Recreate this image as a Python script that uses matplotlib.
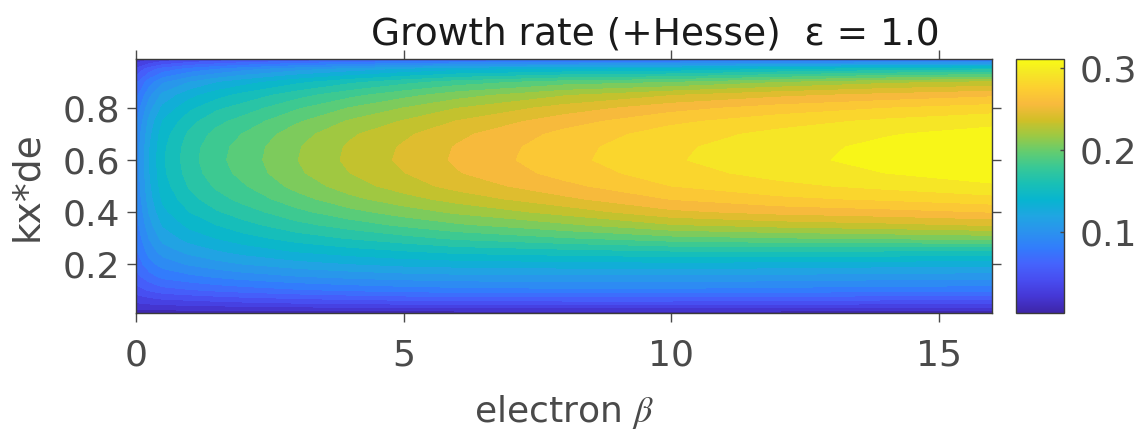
import numpy as np
import matplotlib
matplotlib.use("Agg")
import matplotlib.pyplot as plt
from matplotlib.colors import LinearSegmentedColormap, Normalize
from matplotlib.cm import ScalarMappable

plt.rcParams['font.family'] = ['DejaVu Sans']
plt.rcParams['mathtext.fontset'] = 'stix'

# data: growth rate on a (beta, kx*de) grid
beta = [0, 0.25, 0.5, 1, 1.5, 2, 3, 4, 5, 6, 8, 10, 12, 14, 16]
kx = [0.01, 0.05, 0.1, 0.15, 0.2, 0.25, 0.3, 0.35, 0.4, 0.45, 0.5,
      0.55, 0.6, 0.65, 0.7, 0.75, 0.8, 0.85, 0.9, 0.95, 0.99]
growth = [
    [0.005, 0.025, 0.045, 0.058, 0.067, 0.073, 0.078, 0.082, 0.085, 0.088, 0.090, 0.091, 0.092, 0.091, 0.089, 0.085, 0.079, 0.071, 0.060, 0.040, 0.015],
    [0.005, 0.028, 0.052, 0.070, 0.083, 0.093, 0.101, 0.108, 0.114, 0.119, 0.122, 0.124, 0.125, 0.124, 0.121, 0.116, 0.108, 0.097, 0.082, 0.057, 0.022],
    [0.005, 0.030, 0.058, 0.078, 0.093, 0.106, 0.117, 0.126, 0.134, 0.140, 0.144, 0.147, 0.148, 0.147, 0.144, 0.138, 0.128, 0.116, 0.098, 0.068, 0.028],
    [0.005, 0.032, 0.062, 0.084, 0.102, 0.117, 0.130, 0.141, 0.150, 0.158, 0.164, 0.168, 0.170, 0.169, 0.165, 0.158, 0.147, 0.133, 0.113, 0.080, 0.035],
    [0.005, 0.034, 0.066, 0.089, 0.108, 0.124, 0.138, 0.150, 0.161, 0.170, 0.177, 0.182, 0.184, 0.183, 0.179, 0.171, 0.160, 0.145, 0.124, 0.088, 0.040],
    [0.005, 0.036, 0.069, 0.093, 0.113, 0.130, 0.145, 0.158, 0.169, 0.179, 0.186, 0.191, 0.193, 0.192, 0.188, 0.180, 0.168, 0.154, 0.132, 0.096, 0.044],
    [0.005, 0.039, 0.074, 0.099, 0.120, 0.139, 0.156, 0.171, 0.184, 0.195, 0.204, 0.210, 0.212, 0.211, 0.207, 0.198, 0.186, 0.170, 0.147, 0.108, 0.050],
    [0.005, 0.041, 0.078, 0.103, 0.125, 0.145, 0.164, 0.181, 0.196, 0.209, 0.219, 0.225, 0.228, 0.227, 0.223, 0.214, 0.201, 0.184, 0.160, 0.117, 0.055],
    [0.005, 0.043, 0.081, 0.106, 0.129, 0.150, 0.171, 0.190, 0.206, 0.220, 0.231, 0.237, 0.240, 0.239, 0.235, 0.226, 0.213, 0.196, 0.171, 0.126, 0.058],
    [0.005, 0.044, 0.083, 0.108, 0.131, 0.155, 0.178, 0.198, 0.215, 0.230, 0.242, 0.249, 0.252, 0.251, 0.247, 0.238, 0.225, 0.207, 0.181, 0.133, 0.060],
    [0.005, 0.045, 0.085, 0.109, 0.133, 0.159, 0.187, 0.210, 0.230, 0.247, 0.259, 0.267, 0.271, 0.270, 0.266, 0.257, 0.243, 0.224, 0.194, 0.139, 0.063],
    [0.005, 0.045, 0.085, 0.109, 0.134, 0.163, 0.196, 0.224, 0.247, 0.263, 0.275, 0.282, 0.286, 0.285, 0.281, 0.272, 0.258, 0.237, 0.200, 0.142, 0.065],
    [0.005, 0.044, 0.083, 0.108, 0.133, 0.164, 0.200, 0.230, 0.254, 0.272, 0.284, 0.292, 0.296, 0.295, 0.291, 0.282, 0.268, 0.247, 0.212, 0.150, 0.066],
    [0.005, 0.042, 0.081, 0.106, 0.131, 0.163, 0.203, 0.234, 0.258, 0.277, 0.291, 0.300, 0.304, 0.303, 0.299, 0.290, 0.275, 0.254, 0.222, 0.156, 0.066],
    [0.005, 0.041, 0.080, 0.105, 0.130, 0.162, 0.206, 0.239, 0.263, 0.283, 0.298, 0.307, 0.311, 0.310, 0.305, 0.296, 0.281, 0.260, 0.228, 0.160, 0.067],
]
xticks = [0, 5, 10, 15]
yticks = [0.2, 0.4, 0.6, 0.8]
cbticks = [0.1, 0.2, 0.3]

# parula colormap (every 4th entry of the 64-colour table)
parula_idx = [0, 4, 8, 12, 16, 20, 24, 28, 32, 36, 40, 44, 48, 52, 56, 60, 63]
parula_rgb = [
    (0.2422, 0.1504, 0.6603), (0.2706, 0.2147, 0.8364), (0.2813, 0.3006, 0.9414),
    (0.2699, 0.3892, 0.9906), (0.1963, 0.4847, 0.9892), (0.1687, 0.5703, 0.9359),
    (0.1248, 0.6459, 0.8883), (0.0297, 0.7082, 0.8163), (0.0964, 0.7500, 0.7120),
    (0.2161, 0.7843, 0.5923), (0.3909, 0.8029, 0.4354), (0.6174, 0.7876, 0.2612),
    (0.8203, 0.7498, 0.1535), (0.9728, 0.7298, 0.2394), (0.9892, 0.8136, 0.1885),
    (0.9597, 0.9135, 0.1423), (0.9769, 0.9839, 0.0805),
]
parula = LinearSegmentedColormap.from_list(
    'parula', [(i / 63, c) for i, c in zip(parula_idx, parula_rgb)], N=256)
norm = Normalize(vmin=0.0016, vmax=0.311)

fig = plt.figure(figsize=(11.37, 4.33), dpi=100)
ax = fig.add_axes([136 / 1137, 1 - 313 / 433, 856 / 1137, 254 / 433])

Z = np.array(growth).T
levels = np.linspace(0.0, 0.3125, 26)
ax.contourf(beta, kx, Z, levels=levels, cmap=parula, norm=norm)

ax.set_xlim(0, 16)
ax.set_ylim(0.01, 0.99)
ax.set_xticks(xticks)
ax.set_yticks(yticks)
ax.set_yticklabels(['0.2', '0.4', '0.6', '0.8'])
gray = '#4a4a4a'
ax.tick_params(direction='out', top=True, right=True, length=6.5, width=1,
               color=gray, labelcolor=gray, labelsize=26)
ax.tick_params(axis='x', pad=12)
ax.tick_params(axis='y', pad=5)
for s in ax.spines.values():
    s.set_color('#3a3a3a')
    s.set_linewidth(1)

ax.set_xlabel(r'electron $\beta$', fontsize=26, color=gray, va='top')
ax.xaxis.set_label_coords(0.5, -0.315)
ax.set_ylabel('kx*de', fontsize=27, color=gray)
ax.yaxis.set_label_coords(-0.106, 0.5)

fig.text(655 / 1137, 1 - 45 / 433, 'Growth rate (+Hesse)  ε = 1.0', fontsize=27,
         color='#1a1a1a', ha='center', va='baseline')

cax = fig.add_axes([1016 / 1137, 1 - 313 / 433, 48 / 1137, 254 / 433])
cb = fig.colorbar(ScalarMappable(norm=norm, cmap=parula), cax=cax)
cb.set_ticks(cbticks)
cb.set_ticklabels(['0.1', '0.2', '0.3'])
cax.tick_params(direction='in', length=3, width=1, color=gray, labelcolor=gray,
                labelsize=26, pad=11)
cb.outline.set_edgecolor('#3a3a3a')
cb.outline.set_linewidth(1)

fig.savefig('out.png', dpi=100)
